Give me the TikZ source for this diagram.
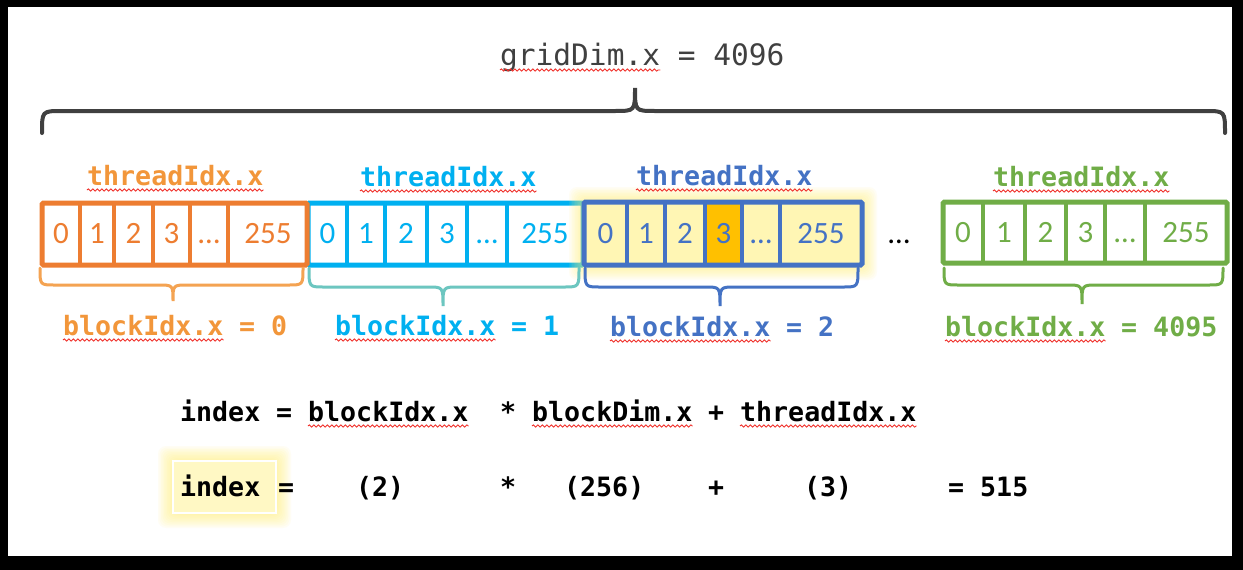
\documentclass[tikz,border=0pt]{standalone}
\usepackage{fontspec}
\setmainfont{Carlito}
\newfontfamily\codefont{DejaVu Sans Mono}
\usetikzlibrary{decorations.pathmorphing}

\definecolor{cOrange}{HTML}{ED7D31}
\definecolor{cOrangeT}{HTML}{F2963A}
\definecolor{cOrangeB}{HTML}{F4A352}
\definecolor{cCyan}{HTML}{00B0F0}
\definecolor{cTeal}{HTML}{6CC6C0}
\definecolor{cBlue}{HTML}{4472C4}
\definecolor{cGreen}{HTML}{70AD47}
\definecolor{cGray}{HTML}{404040}
\definecolor{cGold}{HTML}{FFC000}
\definecolor{cPale}{HTML}{FFF6B4}
\definecolor{cPaleIdx}{HTML}{FFF8C4}
\definecolor{cGlow}{HTML}{FFF176}
\definecolor{cSquig}{HTML}{F0302A}

% soft yellow halo around a rectangle (x0,y0)-(x1,y1)
\newcommand{\glowbox}[4]{%
  \foreach \g in {1,...,10}{%
    \fill[cGlow, opacity=0.08, rounded corners=8pt]
      ({#1-\g*1.5},{#2-\g*1.5}) rectangle ({#3+\g*1.5},{#4+\g*1.5});}}

% curly brace: style, x left, x right, x tip, y of ends, y of bar, y of tip, radius
\newcommand{\drawcurly}[8]{%
  \draw[#1] (#2,#5) .. controls (#2,#6) .. ({#2+#8},#6) -- ({#4-#8},#6)
    .. controls (#4,#6) .. (#4,#7) .. controls (#4,#6) .. ({#4+#8},#6)
    -- ({#3-#8},#6) .. controls (#3,#6) .. (#3,#5);}

\begin{document}
\begin{tikzpicture}[x=1pt,y=-1pt,
  cell/.style={font=\fontsize{31}{31}\selectfont, inner sep=0pt},
  code/.style={font=\codefont\bfseries\fontsize{26.6}{30}\selectfont, inner sep=0pt, anchor=base west},
  plain/.style={font=\codefont\fontsize{29.5}{32}\selectfont, inner sep=0pt, anchor=base west, text=cGray},
  squig/.style={draw=cSquig, line width=0.9pt, decorate,
    decoration={snake, segment length=4.5pt, amplitude=1.1pt}},
  bracepath/.style={line width=3pt, line cap=round},
  blockframe/.style={line width=5pt, rounded corners=1.5pt},
  divider/.style={line width=4pt}]

\useasboundingbox (0,0) rectangle (1243,570);
\fill[white] (0,0) rectangle (1243,570);

% ---- grid dimension ----
\node[plain] (grid) at (500,65) {gridDim.x};
\node[plain] (gridval) at (677.6,65) {= 4096};
\draw[squig] ([yshift=-5pt]grid.base west) -- ([yshift=-5pt]grid.base east);
\drawcurly{cGray, line width=4pt, line cap=round}{42}{1225}{635}{133}{111}{88}{20}

% ---- block 1 (cyan) ----
\draw[cCyan, blockframe] (308,203) rectangle (583,265);
\foreach \d in {347,385,427,467,507} \draw[cCyan, divider] (\d,203) -- (\d,265);
\foreach \cx/\t [count=\k] in {327.5/0,366/1,406/2,447/3,487/…,545/255}
  \node[cell, text=cCyan] (bB\k) at (\cx,234) {\vphantom{0}\t};

% ---- block 0 (orange) ----
\draw[cOrange, blockframe] (42,203) rectangle (307,265);
\foreach \d in {80,114,153,190,228} \draw[cOrange, divider] (\d,203) -- (\d,265);
\foreach \cx/\t [count=\k] in {61/0,97/1,133.5/2,171.5/3,209/…,268/255}
  \node[cell, text=cOrange] (bA\k) at (\cx,234) {\vphantom{0}\t};

% ---- block 2 (blue, highlighted) ----
\glowbox{584}{202}{862}{265}
\fill[cPale] (584,202) rectangle (862,265);
\fill[cGold] (705,202) rectangle (742,265);
\draw[cBlue, blockframe] (584,202) rectangle (862,265);
\foreach \d in {627,665,705,742,780} \draw[cBlue, divider] (\d,202) -- (\d,265);
\foreach \cx/\t [count=\k] in {605.5/0,646/1,685/2,723.5/3,761/…,821/255}
  \node[cell, text=cBlue] (bC\k) at (\cx,234) {\vphantom{0}\t};

% ---- gap ----
\node[cell] (gap) at (899,234) {\vphantom{0}…};

% ---- block 4095 (green) ----
\draw[cGreen, blockframe] (943,202) rectangle (1227,263);
\foreach \d in {983,1025,1066,1105,1145} \draw[cGreen, divider] (\d,202) -- (\d,263);
\foreach \cx/\t [count=\k] in {963/0,1004/1,1045.5/2,1085.5/3,1125/…,1186/255}
  \node[cell, text=cGreen] (bD\k) at (\cx,233) {\vphantom{0}\t};

% ---- thread index captions ----
\node[code, text=cOrangeT] (tA) at (87,185) {threadIdx.x};
\node[code, text=cCyan]    (tB) at (360,186) {threadIdx.x};
\node[code, text=cBlue]    (tC) at (636,185) {threadIdx.x};
\node[code, text=cGreen]   (tD) at (993,186) {threadIdx.x};
\foreach \n in {tA,tB,tC,tD}
  \draw[squig] ([yshift=-5pt]\n.base west) -- ([yshift=-5pt]\n.base east);

% ---- braces under blocks ----
\drawcurly{cOrangeB, bracepath}{40}{303}{173}{268}{285}{301}{15}
\drawcurly{cTeal, bracepath}{309}{579}{443}{268}{287}{306}{15}
\drawcurly{cBlue, bracepath}{585}{858}{720}{268}{287}{306}{15}
\drawcurly{cGreen, bracepath}{944}{1223}{1082}{268}{285}{304}{15}

% ---- block index captions ----
\node[code, text=cOrangeT] (lA) at (63,335) {blockIdx.x};
\node[code, text=cOrangeT] (lAv) at (239,335) {= 0};
\node[code, text=cCyan]    (lB) at (335,335) {blockIdx.x};
\node[code, text=cCyan]    (lBv) at (511,335) {= 1};
\node[code, text=cBlue]    (lC) at (610,336) {blockIdx.x};
\node[code, text=cBlue]    (lCv) at (786,336) {= 2};
\node[code, text=cGreen]   (lD) at (945,336) {blockIdx.x};
\node[code, text=cGreen]   (lDv) at (1121,336) {= 4095};
\foreach \n in {lA,lB,lC,lD}
  \draw[squig] ([yshift=-5pt]\n.base west) -- ([yshift=-5pt]\n.base east);

% ---- formula ----
\node[code] (fIndex) at (180,421) {index};
\node[code] (fEq)    at (276,421) {=};
\node[code] (fBidx)  at (308,421) {blockIdx.x};
\node[code] (fMul)   at (500,421) {*};
\node[code] (fBdim)  at (532,421) {blockDim.x};
\node[code] (fPlus)  at (708,421) {+};
\node[code] (fTidx)  at (740,421) {threadIdx.x};
\foreach \n in {fBidx,fBdim,fTidx}
  \draw[squig] ([yshift=-5pt]\n.base west) -- ([yshift=-5pt]\n.base east);

% ---- worked example ----
\glowbox{173}{461}{276}{513}
\fill[cPaleIdx] (173,461) rectangle (276,513);
\draw[white, line width=1.5pt] (173,461) rectangle (276,513);
\node[code] (eIndex) at (180,496) {index};
\node[code] (eEq)    at (278,496) {=};
\node[code] (eB)     at (356,496) {(2)};
\node[code] (eMul)   at (500,496) {*};
\node[code] (eD)     at (564,496) {(256)};
\node[code] (ePlus)  at (708,496) {+};
\node[code] (eT)     at (804,496) {(3)};
\node[code] (eRes)   at (948,496) {= 515};

% ---- outer dark edges ----
\fill[black] (0,0) rectangle (1243,7);
\fill[black] (0,0) rectangle (8,570);
\fill[black] (1232,0) rectangle (1243,570);
\fill[black] (0,556) rectangle (1243,570);
\end{tikzpicture}
\end{document}
